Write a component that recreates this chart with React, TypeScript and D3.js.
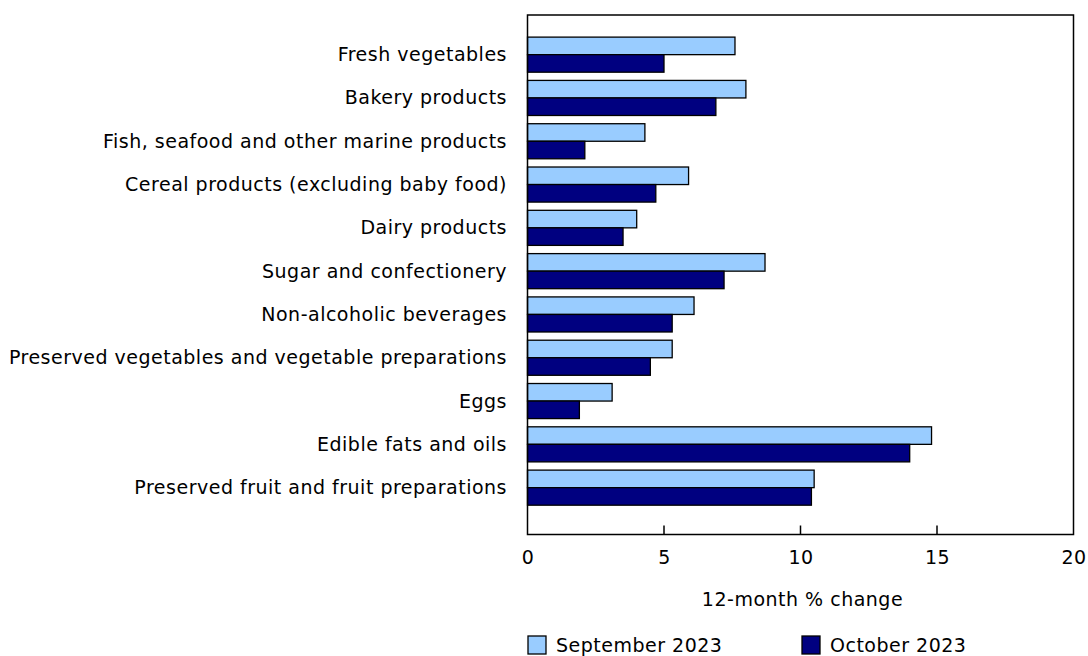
import React, { useEffect, useRef } from "react";
import * as d3 from "d3";

const categories = [
  "Fresh vegetables",
  "Bakery products",
  "Fish, seafood and other marine products",
  "Cereal products (excluding baby food)",
  "Dairy products",
  "Sugar and confectionery",
  "Non-alcoholic beverages",
  "Preserved vegetables and vegetable preparations",
  "Eggs",
  "Edible fats and oils",
  "Preserved fruit and fruit preparations",
];
const september2023 = [7.6, 8.0, 4.3, 5.9, 4.0, 8.7, 6.1, 5.3, 3.1, 14.8, 10.5];
const october2023 = [5.0, 6.9, 2.1, 4.7, 3.5, 7.2, 5.3, 4.5, 1.9, 14.0, 10.4];
const seriesNames = ["September 2023", "October 2023"];
const seriesColors = ["#99ccff", "#000080"];
const xTicks = [0, 5, 10, 15, 20];

const width = 1088;
const height = 656;
const font = "'DejaVu Sans', Verdana, sans-serif";
const fontSize = "19px";
const spacing = "0.5px";

export default function App() {
  const svgRef = useRef<SVGSVGElement>(null);

  useEffect(() => {
    const svg = d3.select(svgRef.current);
    svg.selectAll("*").remove();

    const left = 527.5;
    const right = 1073.5;
    const top = 15;
    const bottom = 534.5;

    const x = d3.scaleLinear().domain([0, 20]).range([left, right]);
    const y = d3
      .scaleBand()
      .domain(categories)
      .range([33, 509.3])
      .paddingInner(0.19)
      .paddingOuter(0.095);
    const sub = d3
      .scaleBand()
      .domain(seriesNames)
      .range([0, y.bandwidth()]);

    const rows = categories.map((c, i) => ({
      cat: c,
      vals: [september2023[i], october2023[i]],
    }));

    // bars
    const g = svg.append("g");
    rows.forEach((r) => {
      r.vals.forEach((v, j) => {
        g.append("rect")
          .attr("x", x(0))
          .attr("y", (y(r.cat) as number) + (sub(seriesNames[j]) as number))
          .attr("width", x(v) - x(0))
          .attr("height", sub.bandwidth())
          .attr("fill", seriesColors[j])
          .attr("stroke", "#000")
          .attr("stroke-width", 1.3);
      });
    });

    // frame
    svg
      .append("rect")
      .attr("x", left)
      .attr("y", top)
      .attr("width", right - left)
      .attr("height", bottom - top)
      .attr("fill", "none")
      .attr("stroke", "#000")
      .attr("stroke-width", 1.5);

    // x axis
    const xAxis = d3
      .axisBottom(x)
      .tickValues(xTicks)
      .tickSize(0)
      .tickPadding(16)
      .tickFormat((d) => String(d));
    const ax = svg
      .append("g")
      .attr("transform", `translate(0, ${bottom})`)
      .call(xAxis);
    ax.select(".domain").remove();
    ax.selectAll("text")
      .attr("fill", "#000")
      .style("font-family", font)
      .style("font-size", fontSize)
      .style("letter-spacing", spacing);

    // inward tick marks
    svg
      .append("g")
      .selectAll("line")
      .data(xTicks.slice(1, -1))
      .enter()
      .append("line")
      .attr("x1", (d) => x(d))
      .attr("x2", (d) => x(d))
      .attr("y1", bottom)
      .attr("y2", bottom - 9)
      .attr("stroke", "#000")
      .attr("stroke-width", 1.5);

    // category labels
    svg
      .append("g")
      .selectAll("text")
      .data(categories)
      .enter()
      .append("text")
      .attr("x", 507)
      .attr("y", (d) => (y(d) as number) + y.bandwidth() / 2 + 6.5)
      .attr("text-anchor", "end")
      .style("font-family", font)
      .style("font-size", fontSize)
      .style("letter-spacing", spacing)
      .text((d) => d);

    // axis title
    svg
      .append("text")
      .attr("x", x(10) + 2)
      .attr("y", 606)
      .attr("text-anchor", "middle")
      .style("font-family", font)
      .style("font-size", fontSize)
      .style("letter-spacing", spacing)
      .text("12-month % change");

    // legend
    const legendX = [528, 802];
    seriesNames.forEach((name, j) => {
      svg
        .append("rect")
        .attr("x", legendX[j])
        .attr("y", 636)
        .attr("width", 18)
        .attr("height", 18)
        .attr("fill", seriesColors[j])
        .attr("stroke", "#000")
        .attr("stroke-width", 1.3);
      svg
        .append("text")
        .attr("x", legendX[j] + 28)
        .attr("y", 652)
        .style("font-family", font)
        .style("font-size", fontSize)
        .style("letter-spacing", spacing)
        .text(name);
    });
  }, []);

  return (
    <svg
      ref={svgRef}
      width={width}
      height={height}
      style={{ position: "absolute", left: 0, top: 0, background: "#fff" }}
    />
  );
}
